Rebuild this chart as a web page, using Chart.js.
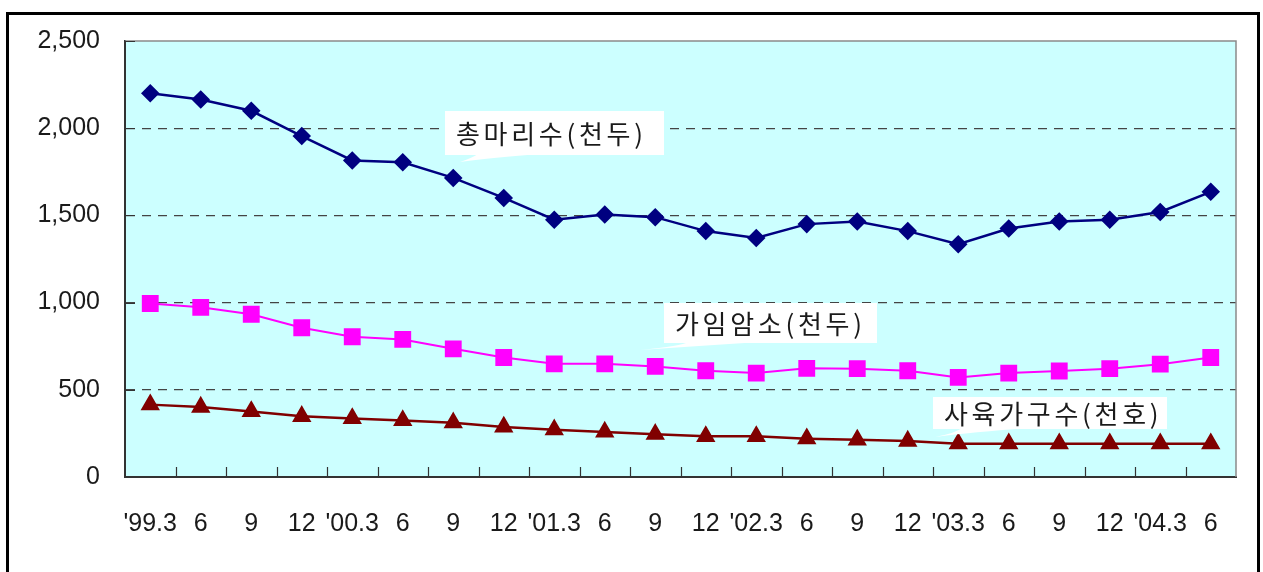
<!DOCTYPE html>
<html>
<head>
<meta charset="utf-8">
<script src="https://cdn.jsdelivr.net/npm/chart.js@4"></script>
<style>
  body { margin: 0; background: #fff; }
  #frame { position: absolute; left: 6px; top: 12px; width: 1248px; height: 620px; border: 3px solid #000; border-bottom: none; }
  #canvas { position: absolute; left: 0; top: 0; }
</style>
</head>
<body>
<div id="frame"></div>
<canvas id="canvas" width="1263" height="572"></canvas>
<script>
var labels = ["'99.3", "6", "9", "12", "'00.3", "6", "9", "12", "'01.3", "6", "9", "12",
              "'02.3", "6", "9", "12", "'03.3", "6", "9", "12", "'04.3", "6"];
// 총마리수(천두)
var totalHead = [2200, 2165, 2100, 1955, 1815, 1805, 1715, 1600, 1475, 1505, 1490, 1410,
                 1370, 1450, 1465, 1410, 1335, 1425, 1465, 1475, 1520, 1635];
// 가임암소(천두)
var breedingCows = [995, 973, 933, 856, 804, 789, 735, 685, 649, 649, 634, 609,
                    596, 623, 621, 609, 571, 596, 608, 621, 647, 685];
// 사육가구수(천호)
var farmHouseholds = [415, 401, 376, 348, 336, 324, 311, 287, 271, 258, 245, 233,
                      233, 220, 213, 206, 191, 191, 191, 191, 191, 191];
var yTicks = [0, 500, 1000, 1500, 2000, 2500];

// callout boxes: text, box [left, top, right, bottom], tail [tipX, tipY, baseX1, baseX2]
var callouts = [
    { text: '총마리수(천두)', box: [445, 111, 664, 155], tail: [460, 162, 478, 540] },
    { text: '가임암소(천두)', box: [664, 303, 877, 343], tail: [640, 350, 688, 760] },
    { text: '사육가구수(천호)', box: [933, 397, 1167, 429], tail: [935, 437, 962, 1030] }
];

var plotFrame = {
    id: 'plotFrame',
    beforeDraw: function(chart){
        var a = chart.chartArea, c = chart.ctx;
        c.save();
        c.fillStyle = '#CCFFFF';
        c.fillRect(a.left, a.top, a.right - a.left, a.bottom - a.top);
        c.restore();
    },
    afterDraw: function(chart){
        var a = chart.chartArea, c = chart.ctx;
        var x = chart.scales.x, y = chart.scales.y;
        c.save();
        // top + right edge
        c.strokeStyle = '#8a8a8a';
        c.lineWidth = 1.5;
        c.beginPath();
        c.moveTo(a.left, a.top); c.lineTo(a.right, a.top); c.lineTo(a.right, a.bottom);
        c.stroke();
        // inner tick marks
        c.strokeStyle = '#333';
        c.lineWidth = 1.2;
        c.beginPath();
        for (var i = 1; i < labels.length; i++) {
            var px = Math.round((x.getPixelForValue(i - 1) + x.getPixelForValue(i)) / 2) + 0.5;
            c.moveTo(px, a.bottom); c.lineTo(px, a.bottom - 10);
        }
        yTicks.forEach(function(v){
            var py = Math.round(y.getPixelForValue(v)) + 0.5;
            c.moveTo(a.left, py); c.lineTo(a.left + 10, py);
        });
        c.stroke();
        c.restore();
    },
    afterDatasetsDraw: function(chart){
        var c = chart.ctx;
        c.save();
        c.font = '26px "Noto Sans CJK KR"';
        c.letterSpacing = '3.7px';
        c.textBaseline = 'middle';
        c.textAlign = 'left';
        callouts.forEach(function(co){
            var b = co.box, t = co.tail;
            c.fillStyle = '#fff';
            c.fillRect(b[0], b[1], b[2] - b[0], b[3] - b[1]);
            c.beginPath();
            c.moveTo(t[2], b[3] - 1);
            c.quadraticCurveTo(t[2] - 6, t[1] - 4, t[0], t[1]);
            c.quadraticCurveTo(t[2] + 10, b[3] + 3, t[3], b[3] - 1);
            c.closePath();
            c.fill();
            c.fillStyle = '#1a1a1a';
            c.fillText(co.text, b[0] + 11, (b[1] + b[3]) / 2 + 1);
        });
        c.restore();
    }
};

var ctx = document.getElementById('canvas').getContext('2d');
var myChart = new Chart(ctx, {
    type: 'line',
    data: {
        labels: labels,
        datasets: [{
            label: '총마리수(천두)',
            data: totalHead,
            borderColor: '#000080',
            backgroundColor: '#000080',
            borderWidth: 2.5,
            pointStyle: 'rectRot',
            pointRadius: 7.5,
            tension: 0
        },
        {
            label: '가임암소(천두)',
            data: breedingCows,
            borderColor: '#FF00FF',
            backgroundColor: '#FF00FF',
            borderWidth: 2,
            pointStyle: 'rect',
            pointRadius: 10.5,
            tension: 0
        },
        {
            label: '사육가구수(천호)',
            data: farmHouseholds,
            borderColor: '#800000',
            backgroundColor: '#800000',
            borderWidth: 2.5,
            pointStyle: 'triangle',
            pointRadius: 8.7,
            tension: 0
        }]
    },
    options: {
        responsive: false,
        animation: false,
        layout: { padding: { top: 41, right: 27, left: 0, bottom: 0 } },
        plugins: { legend: { display: false }, tooltip: { enabled: false } },
        scales: {
            x: {
                offset: true,
                grid: { display: false },
                border: { color: '#333', width: 2 },
                ticks: {
                    autoSkip: false, maxRotation: 0, padding: 24,
                    color: '#1a1a1a',
                    font: { family: '"Liberation Sans"', size: 25 }
                },
                afterFit: function(scale){ scale.height = 95; }
            },
            y: {
                min: 0, max: 2500,
                grid: {
                    drawTicks: false,
                    color: function(c){ return (c.tick && (c.tick.value === 0 || c.tick.value === 2500)) ? 'rgba(0,0,0,0)' : '#444'; },
                    lineWidth: 1.2
                },
                border: { color: '#333', width: 2, dash: [9, 7] },
                ticks: {
                    stepSize: 500, padding: 25,
                    color: '#1a1a1a',
                    font: { family: '"Liberation Sans"', size: 25 },
                    callback: function(v){ return v.toLocaleString('en-US'); }
                },
                afterFit: function(scale){ scale.width = 125; }
            }
        }
    },
    plugins: [plotFrame]
});
</script>
</body>
</html>
